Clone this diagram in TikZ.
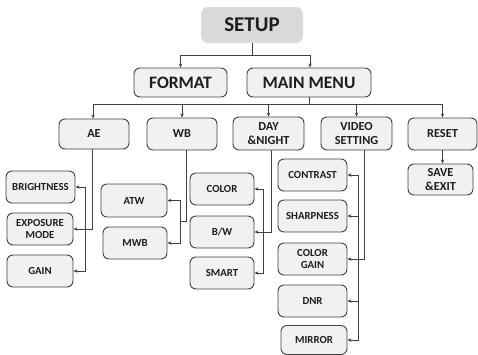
\documentclass[tikz,border=0pt]{standalone}
\usepackage{fontspec}
\setmainfont{Carlito}
\usetikzlibrary{arrows.meta}
\definecolor{boxfill}{HTML}{F1F1F1}
\definecolor{boxline}{HTML}{404040}
\definecolor{topfill}{HTML}{D9D9D9}
\definecolor{txt}{HTML}{1E1E1E}
\tikzset{
  menubox/.style={draw=boxline, line width=0.9pt, fill=boxfill, rounded corners=6pt,
    inner sep=0pt, align=center, text=txt, font=\bfseries\fontsize{10.8}{12.5}\selectfont},
  subbox/.style={menubox, font=\bfseries\fontsize{12.3}{14}\selectfont},
  bigbox/.style={menubox, font=\bfseries\fontsize{17.5}{19}\selectfont},
  topbox/.style={fill=topfill, rounded corners=7pt, inner sep=0pt, text=txt,
    font=\bfseries\fontsize{21}{24}\selectfont},
  link/.style={draw=boxline, line width=0.8pt},
  arr/.style={link, -{Stealth[length=4pt,width=3.4pt]}}
}
\begin{document}
\begin{tikzpicture}[x=1pt,y=-1pt]
\useasboundingbox (0,0) rectangle (478,354);
% top levels
\node[topbox, minimum width=102pt, minimum height=36pt] (setup) at (252,25) {SETUP};
\node[bigbox, minimum width=93pt, minimum height=29pt] (format) at (180.5,82.5) {FORMAT};
\node[bigbox, minimum width=124pt, minimum height=29pt] (main) at (309,82.5) {MAIN MENU};
% second row
\node[subbox, minimum width=70pt, minimum height=30pt] (ae) at (94,134) {AE};
\node[subbox, minimum width=70pt, minimum height=32pt] (wb) at (182,134) {WB};
\node[subbox, minimum width=71pt, minimum height=33pt] (dn) at (268.5,133.5) {DAY\\\&NIGHT};
\node[subbox, minimum width=71pt, minimum height=33pt] (vs) at (356.5,133.5) {VIDEO\\SETTING};
\node[subbox, minimum width=69pt, minimum height=32pt] (reset) at (442.5,134) {RESET};
\node[subbox, minimum width=65pt, minimum height=31pt] (save) at (440.5,179.5) {SAVE\\\&EXIT};
% AE children
\node[menubox, minimum width=69pt, minimum height=32pt] (bright) at (40.5,187) {BRIGHTNESS};
\node[menubox, minimum width=66pt, minimum height=32pt] (expo) at (40,229) {EXPOSURE\\MODE};
\node[menubox, minimum width=66pt, minimum height=32pt] (gain) at (40,271) {GAIN};
% WB children
\node[menubox, minimum width=66pt, minimum height=33pt] (atw) at (134,200.5) {ATW};
\node[menubox, minimum width=64pt, minimum height=32pt] (mwb) at (135,243) {MWB};
% Day&Night children
\node[menubox, minimum width=64pt, minimum height=32pt] (color) at (222,189) {COLOR};
\node[menubox, minimum width=64pt, minimum height=32pt] (bw) at (222,232) {B/W};
\node[menubox, minimum width=64pt, minimum height=32pt] (smart) at (222,273) {SMART};
% Video setting children
\node[menubox, minimum width=69pt, minimum height=32pt] (contrast) at (312.5,175) {CONTRAST};
\node[menubox, minimum width=69pt, minimum height=32pt] (sharp) at (312.5,216) {SHARPNESS};
\node[menubox, minimum width=69pt, minimum height=32pt] (cgain) at (312.5,259) {COLOR\\GAIN};
\node[menubox, minimum width=69pt, minimum height=32pt] (dnr) at (312.5,301) {DNR};
\node[menubox, minimum width=66pt, minimum height=29pt] (mirror) at (314,340) {MIRROR};
% junctions
\coordinate (j1) at (252,55);
\coordinate (j2) at (309,104);
\coordinate (aej) at (85,229);
\coordinate (wbj) at (180,221);
\coordinate (dnj) at (263,232);
\coordinate (vsj) at (358,259);
% connectors
\draw[link] (setup.south) -- (j1);
\draw[arr] (j1) -| (format.north);
\draw[arr] (j1) -| ([xshift=1pt]main.north);
\draw[link] (main.south) -- (j2);
\draw[arr] (j2) -| ([xshift=-1pt]ae.north);
\draw[arr] (j2) -| (wb.north);
\draw[arr] (j2) -| (dn.north);
\draw[arr] (j2) -| (vs.north);
\draw[arr] (j2) -| (reset.north);
\draw[arr] (reset.south) -- (reset.south |- save.north);
% AE
\draw[arr] ([xshift=-2pt]ae.south) |- (expo.east);
\draw[arr] (aej) |- (bright.east);
\draw[arr] (aej) |- (gain.east);
% WB
\draw[link] ([xshift=4pt]wb.south) |- (wbj);
\draw[arr] (wbj) |- (atw.east);
\draw[arr] (wbj) |- (mwb.east);
% Day & Night
\draw[arr] ([xshift=2.5pt]dn.south) |- (bw.east);
\draw[arr] (dnj) |- (color.east);
\draw[arr] (dnj) |- (smart.east);
% Video setting
\draw[arr] ([xshift=7.5pt]vs.south) |- (cgain.east);
\draw[arr] (vsj) |- (contrast.east);
\draw[arr] (vsj) |- (sharp.east);
\draw[arr] (vsj) |- (dnr.east);
\draw[arr] (vsj) |- (mirror.east);
\end{tikzpicture}
\end{document}
